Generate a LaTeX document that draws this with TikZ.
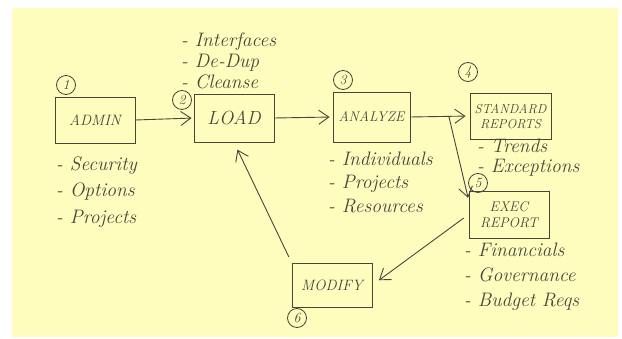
\documentclass[tikz,border=0pt]{standalone}
\usetikzlibrary{arrows.meta}
\definecolor{pad}{RGB}{254,253,190}
\definecolor{pen}{RGB}{70,70,60}
\begin{document}
\begin{tikzpicture}[x=1pt,y=-1pt,
  stage/.style={draw=pen,line width=0.9pt,rectangle,minimum width=80pt,minimum height=46pt,inner sep=2pt,align=center,text=pen,font=\fontsize{15}{17}\selectfont\itshape},
  num/.style={draw=pen,circle,line width=0.8pt,minimum size=19pt,inner sep=0pt,text=pen,font=\fontsize{14}{14}\selectfont\itshape},
  notes/.style={anchor=west,inner sep=0pt,align=left,text=pen,font=\fontsize{19.5}{#1}\selectfont\itshape},
  flow/.style={draw=pen,line width=0.9pt,-{Straight Barb[length=10pt,width=14pt]}}]
        \useasboundingbox (0,0) rectangle (622,339);
        \fill[white] (0,0) rectangle (622,339);
        \fill[pad] (12,8) rectangle (618,337);

        % the six stages
        \node[stage] (admin) at (95,120) {ADMIN};
        \node[stage,minimum height=48pt,font=\fontsize{19}{21}\selectfont\itshape] (load) at (234,118) {LOAD};
        \node[stage,minimum width=77pt,minimum height=50pt,font=\fontsize{14}{16}\selectfont\itshape] (analyze) at (371.5,117) {ANALYZE};
        \node[stage,minimum width=81pt,font=\fontsize{13}{15}\selectfont\itshape] (std) at (510.5,116) {STANDARD\\REPORTS};
        \node[stage,minimum height=47pt,font=\fontsize{14}{16}\selectfont\itshape] (exec) at (509,214.5) {EXEC\\REPORT};
        \node[stage,minimum height=44pt] (modify) at (332,285) {MODIFY};

        \foreach \k/\x/\y in {1/66/85, 2/182/100, 3/343/80, 4/468/72, 5/478/183, 6/297/318}{
          \node[num] (n\k) at (\x,\y) {\k};
        }

        % notes
        \node[notes=21] (loadnotes) at (181,61) {- Interfaces\\- De-Dup\\- Cleanse};
        \node[notes=26.5] (adminnotes) at (56,192) {- Security\\- Options\\- Projects};
        \node[notes=23.5] (analyzenotes) at (328,182) {- Individuals\\- Projects\\- Resources};
        \node[notes=20] (stdnotes) at (477,158) {- Trends\\- Exceptions};
        \node[notes=25] (execnotes) at (464,277) {- Financials\\- Governance\\- Budget Reqs};

        % flow
        \draw[flow,shorten >=2pt] (admin.east) -- (load.west);
        \draw[flow,shorten >=3pt] (load.east) -- (analyze.west);
        \draw[flow,shorten >=4pt] (analyze.east) -- coordinate[pos=0.65] (split) (std.west);
        \draw[flow,shorten >=2pt] (split) -- (exec.160);
        \draw[flow,shorten <=6pt,shorten >=8pt] (exec.west) -- (modify.east);
        \draw[flow,shorten <=6pt,shorten >=8pt] (modify.north west) -- (load.south);
\end{tikzpicture}
\end{document}
